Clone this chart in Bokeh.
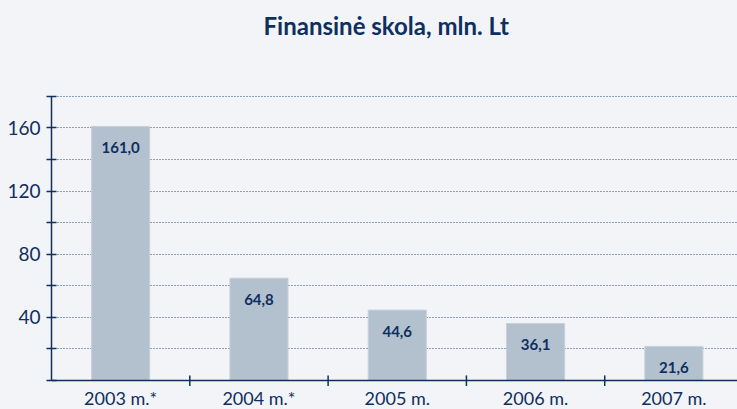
from bokeh.plotting import figure
from bokeh.models import Range1d, FixedTicker, Span
from bokeh.core.properties import value
from bokeh.embed import file_html
from bokeh.resources import INLINE

title_text = "Finansinė skola, mln. Lt"
categories = ["2003 m.*", "2004 m.*", "2005 m.", "2006 m.", "2007 m."]
debt = [161.0, 64.8, 44.6, 36.1, 21.6]
debt_labels = ["161,0", "64,8", "44,6", "36,1", "21,6"]
y_tick_values = [40, 80, 120, 160]
y_minor_values = [0, 20, 60, 100, 140, 180]
grid_values = [20, 40, 60, 80, 100, 120, 140, 160, 180]

NAVY = "#0f2f5f"
BG = "#f2f4f7"
FONT = "Lato"

xs = list(range(len(categories)))
Y_TOP = 240.8          # frame reaches the top of the canvas; title sits above the 180 gridline

p = figure(width=737, height=409, output_backend="svg", toolbar_location=None,
           x_range=Range1d(-0.5, 4.46), y_range=Range1d(-18.4, Y_TOP),
           min_border_left=51, min_border_right=0, min_border_top=0, min_border_bottom=0,
           x_axis_location=None, title=None)

p.background_fill_color = BG
p.border_fill_color = BG
p.outline_line_color = None

p.text(x=[1.92], y=[Y_TOP - 15.8], text=[title_text], text_align="center",
       text_baseline="middle", text_font=value(FONT), text_font_style="bold",
       text_font_size="24px", text_color=NAVY)

p.xgrid.visible = False
p.ygrid.ticker = FixedTicker(ticks=grid_values)
p.ygrid.grid_line_color = "#284a7c"
p.ygrid.grid_line_dash = "1 2"
p.ygrid.grid_line_width = 1

p.vbar(x=xs, top=debt, bottom=0, width=0.42, fill_color="#b3c1cf",
       line_color="#c6d0db", line_width=1)

p.add_layout(Span(location=0, dimension="width", line_color=NAVY, line_width=1.5))

boundaries = [i + 0.5 for i in xs]
p.segment(x0=boundaries, x1=boundaries, y0=[-3.5] * len(xs), y1=[3.2] * len(xs),
          line_color=NAVY, line_width=1.5)

p.text(x=xs, y=[0] * len(xs), text=categories, text_align="center", text_baseline="top",
       y_offset=7, text_font=value(FONT), text_font_size="18px", text_color=NAVY)

p.text(x=xs, y=debt, text=debt_labels, text_align="center", text_baseline="middle",
       y_offset=21, text_font=value(FONT), text_font_style="bold", text_font_size="15px",
       text_color=NAVY)

ax = p.yaxis[0]
ax.ticker = FixedTicker(ticks=y_tick_values, minor_ticks=y_minor_values)
ax.bounds = (0, 180)
ax.axis_line_color = NAVY
ax.axis_line_width = 1.5
ax.major_tick_line_color = NAVY
ax.minor_tick_line_color = NAVY
ax.major_tick_line_width = 1.5
ax.minor_tick_line_width = 1.5
ax.major_tick_in = 5
ax.major_tick_out = 5
ax.minor_tick_in = 5
ax.minor_tick_out = 5
ax.major_label_standoff = 6
ax.major_label_text_font = FONT
ax.major_label_text_font_size = "19px"
ax.major_label_text_color = NAVY

html = file_html(p, INLINE)
html = html.replace("<head>", "<head><style>body{background:%s;}</style>" % BG, 1)
open("out.html", "w").write(html)
